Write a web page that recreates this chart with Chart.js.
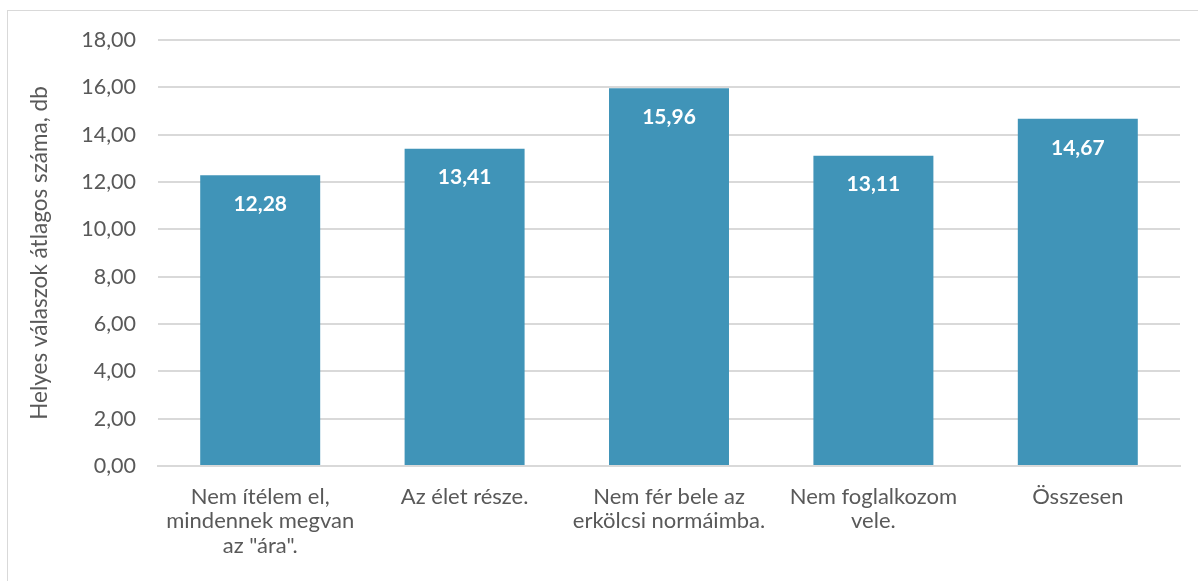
<!DOCTYPE html>
<html>
<head>
<meta charset="utf-8">
<script src="https://cdn.jsdelivr.net/npm/chart.js@4"></script>
<style>
  body { margin: 0; background: #fff; }
  #wrap { position: relative; width: 1198px; height: 581px; }
  #frame { position: absolute; left: 7px; top: 10px; width: 1200px; height: 580px; border: 1.5px solid #D9D9D9; box-sizing: border-box; }
  canvas { position: absolute; left: 0; top: 0; }
</style>
</head>
<body>
<div id="wrap">
  <div id="frame"></div>
  <canvas id="myChart" width="1198" height="581"></canvas>
</div>
<script>
const categories = [
  ['Nem ítélem el,', 'mindennek megvan', 'az "ára".'],
  'Az élet része.',
  ['Nem fér bele az', 'erkölcsi normáimba.'],
  ['Nem foglalkozom', 'vele.'],
  'Összesen'
];
const values = [12.28, 13.41, 15.96, 13.11, 14.67];
const yTicks = [0, 2, 4, 6, 8, 10, 12, 14, 16, 18];

const fmt = v => v.toFixed(2).replace('.', ',');

//Value labels inside the top of each bar
const barLabels = {
  id: 'barLabels',
  afterDatasetsDraw(chart) {
    const ctx = chart.ctx;
    const meta = chart.getDatasetMeta(0);
    ctx.save();
    ctx.fillStyle = '#ffffff';
    ctx.font = 'bold 21px Lato, "Open Sans", sans-serif';
    ctx.textAlign = 'center';
    ctx.textBaseline = 'middle';
    meta.data.forEach((bar, i) => {
      ctx.fillText(fmt(values[i]), bar.x, bar.y + 29);
    });
    ctx.restore();
  }
};

const config = {
  type: 'bar',
  data: {
    labels: categories,
    datasets: [{
      data: values,
      backgroundColor: '#4094B8',
      categoryPercentage: 1,
      barPercentage: 0.587
    }]
  },
  options: {
    responsive: false,
    animation: false,
    layout: { padding: { left: 26, top: 40, right: 18, bottom: 0 } },
    plugins: {
      legend: { display: false },
      tooltip: { enabled: false }
    },
    scales: {
      x: {
        grid: { display: false },
        border: { color: '#D9D9D9', width: 2 },
        ticks: {
          color: '#595959',
          font: { family: 'Lato, "Open Sans", sans-serif', size: 22, lineHeight: 1.1 },
          padding: 11,
          maxRotation: 0,
          autoSkip: false
        },
        afterFit: scale => { scale.height = 115; }
      },
      y: {
        min: 0,
        max: 18,
        afterBuildTicks: scale => { scale.ticks = yTicks.map(v => ({ value: v })); },
        grid: { color: '#D9D9D9', lineWidth: 2, drawTicks: false },
        border: { display: false },
        ticks: {
          color: '#595959',
          font: { family: 'Lato, "Open Sans", sans-serif', size: 21.5 },
          padding: 22,
          callback: v => fmt(v)
        },
        title: {
          display: true,
          text: 'Helyes válaszok átlagos száma, db',
          color: '#595959',
          font: { family: 'Lato, "Open Sans", sans-serif', size: 22.5 },
          padding: 0
        },
        afterFit: scale => { scale.width = 132; }
      }
    }
  },
  plugins: [barLabels]
};

const myChart = new Chart(document.getElementById('myChart'), config);
</script>
</body>
</html>
